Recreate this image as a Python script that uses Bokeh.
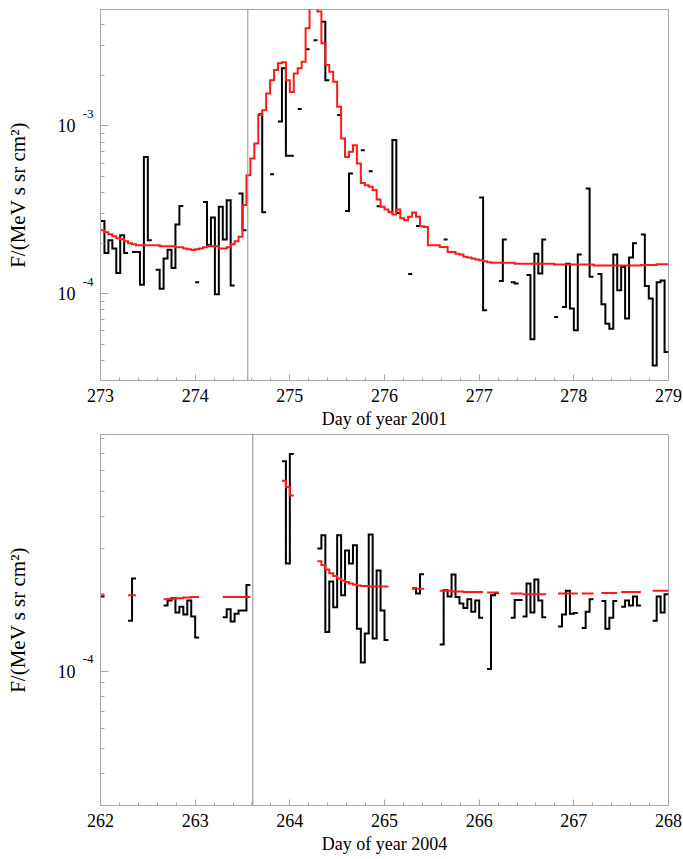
import math
from bokeh.plotting import figure
from bokeh.layouts import column
from bokeh.models import FixedTicker, SingleIntervalTicker, Span, LogAxis, Range1d, LogScale
from bokeh.embed import file_html
from bokeh.resources import INLINE

# ---------------- data: panel 1 (2001) ----------------
top_day0 = 273.0
top_black_starts = [0, 8, 14, 24, 26, 35, 40, 43, 45, 50, 52, 54, 56, 60, 62, 66, 68, 70,
                    73, 78, 80, 87, 96, 101, 104, 108, 115, 117, 123, 126, 137]
top_black_vals = [
    [2.71e-4, 1.75e-4, 2.08e-4, 1.86e-4, 1.33e-4, 2.23e-4, 1.75e-4],
    [1.77e-4, 1.77e-4, 1.13e-4, 6.53e-4, 2.08e-4],
    [1.39e-4, 1.07e-4, 1.62e-4, 1.83e-4, 1.42e-4, 2.58e-4, 3.33e-4],
    [1.17e-4],
    [3.52e-4, 1.94e-4, 2.84e-4, 9.92e-5, 3.29e-4, 2.10e-4, 3.60e-4, 1.12e-4],
    [3.95e-4, 2.39e-4],
    [1.17e-3, 3.06e-4],
    [5.15e-4],
    [1.06e-3, 2.20e-3, 6.63e-4, 6.63e-4],
    [1.26e-3],
    [2.86e-3],
    [3.23e-3],
    [4.17e-3, 1.87e-3],
    [1.16e-3],
    [3.11e-4, 5.20e-4],
    [7.16e-4],
    [5.37e-4],
    [3.32e-4],
    [3.06e-4, 8.22e-4, 3.02e-4],
    [1.31e-4],
    [2.53e-4],
    [2.10e-4],
    [3.74e-4, 7.96e-5],
    [1.19e-4, 2.10e-4],
    [1.17e-4, 1.15e-4],
    [1.29e-4, 5.35e-5, 1.73e-4, 1.32e-4, 2.10e-4],
    [7.26e-5],
    [8.33e-5, 1.51e-4, 8.15e-5, 6.05e-5, 1.71e-4],
    [4.23e-4, 1.26e-4],
    [1.31e-4, 8.65e-5, 6.63e-5, 6.19e-5, 1.71e-4, 1.05e-4, 1.44e-4, 7.11e-5, 1.64e-4, 2.00e-4],
    [2.25e-4, 1.11e-4, 9.35e-5, 3.74e-5, 1.17e-4, 1.20e-4, 4.49e-5],
]
top_red_vals = [
    2.39e-4, 2.32e-4, 2.26e-4, 2.20e-4, 2.14e-4, 2.11e-4, 2.05e-4, 2.00e-4, 1.97e-4, 1.94e-4,
    1.94e-4, 1.94e-4, 1.94e-4, 1.94e-4, 1.94e-4, 1.92e-4, 1.92e-4, 1.92e-4, 1.92e-4, 1.89e-4,
    1.89e-4, 1.86e-4, 1.84e-4, 1.82e-4, 1.84e-4, 1.86e-4, 1.89e-4, 1.92e-4, 1.92e-4, 1.92e-4,
    1.86e-4, 1.86e-4, 1.89e-4, 1.97e-4, 2.05e-4, 2.18e-4, 3.37e-4, 5.08e-4, 6.39e-4, 7.85e-4,
    1.16e-3, 1.24e-3, 1.56e-3, 1.87e-3, 2.15e-3, 2.36e-3, 2.39e-3, 1.87e-3, 1.59e-3, 2.05e-3,
    2.20e-3, 2.41e-3, 3.81e-3, 5.5e-3, 6.0e-3, 4.79e-3, 3.10e-3, 2.30e-3, 2.10e-3, 1.83e-3,
    1.30e-3, 8.40e-4, 6.53e-4, 7.00e-4, 7.67e-4, 5.97e-4, 4.57e-4, 4.43e-4, 4.33e-4, 4.14e-4,
    3.64e-4, 3.29e-4, 3.17e-4, 3.07e-4, 2.96e-4, 3.17e-4, 2.81e-4, 2.74e-4, 2.87e-4, 3.05e-4,
    2.87e-4, 2.52e-4, 2.50e-4, 1.94e-4, 1.94e-4, 1.94e-4, 1.90e-4, 1.90e-4, 1.77e-4, 1.77e-4,
    1.73e-4, 1.71e-4, 1.66e-4, 1.64e-4, 1.62e-4, 1.60e-4, 1.58e-4, 1.56e-4, 1.54e-4, 1.53e-4,
    1.53e-4, 1.53e-4, 1.53e-4, 1.53e-4, 1.53e-4, 1.51e-4, 1.51e-4, 1.51e-4, 1.51e-4, 1.51e-4,
    1.51e-4, 1.51e-4, 1.51e-4, 1.51e-4, 1.51e-4, 1.49e-4, 1.49e-4, 1.49e-4, 1.49e-4, 1.49e-4,
    1.49e-4, 1.49e-4, 1.49e-4, 1.49e-4, 1.49e-4, 1.47e-4, 1.47e-4, 1.47e-4, 1.47e-4, 1.47e-4,
    1.47e-4, 1.47e-4, 1.47e-4, 1.47e-4, 1.47e-4, 1.47e-4, 1.47e-4, 1.48e-4, 1.48e-4, 1.48e-4,
    1.48e-4, 1.50e-4, 1.50e-4, 1.50e-4,
]
top_event_day = 274.556

# ---------------- data: panel 2 (2004) ----------------
bot_day0 = 262.0
bot_starts = [0, 7, 16, 31, 46, 55, 79, 86, 98, 104, 107, 116, 122, 127, 132, 140]
bot_black_vals = [
    [1.95e-4],
    [1.57e-4, 2.29e-4],
    [1.80e-4, 1.88e-4, 1.92e-4, 1.69e-4, 1.78e-4, 1.66e-4, 1.88e-4, 1.63e-4, 1.35e-4],
    [1.62e-4, 1.74e-4, 1.56e-4, 1.67e-4, 1.72e-4, 1.72e-4, 2.16e-4],
    [6.53e-4, 2.62e-4, 6.96e-4],
    [2.99e-4, 3.37e-4, 1.42e-4, 2.23e-4, 1.77e-4, 3.37e-4, 1.97e-4, 2.94e-4, 2.62e-4,
     3.08e-4, 1.46e-4, 1.08e-4, 1.40e-4, 3.39e-4, 1.34e-4, 2.46e-4, 1.72e-4, 1.32e-4],
    [2.10e-4, 2.00e-4, 2.38e-4],
    [1.27e-4, 2.06e-4, 1.95e-4, 2.37e-4, 1.94e-4, 1.83e-4, 1.76e-4, 1.90e-4, 1.70e-4, 1.88e-4, 1.61e-4],
    [1.02e-4, 1.97e-4, 2.01e-4],
    [1.61e-4, 1.89e-4, 1.89e-4],
    [1.63e-4, 2.19e-4, 1.69e-4, 2.27e-4, 1.88e-4, 1.62e-4],
    [1.49e-4, 1.66e-4, 2.05e-4, 1.67e-4, 1.68e-4],
    [1.47e-4, 1.70e-4, 1.90e-4],
    [1.87e-4, 1.46e-4, 1.61e-4, 1.87e-4],
    [1.78e-4, 1.88e-4, 1.80e-4, 1.95e-4, 1.80e-4],
    [1.57e-4, 1.95e-4, 1.69e-4, 1.99e-4],
]
bot_red_vals = [
    [1.97e-4],
    [1.97e-4, 1.97e-4],
    [1.90e-4, 1.91e-4, 1.91e-4, 1.92e-4, 1.92e-4, 1.93e-4, 1.93e-4, 1.94e-4, 1.94e-4],
    [1.94e-4, 1.94e-4, 1.94e-4, 1.94e-4, 1.94e-4, 1.94e-4, 1.94e-4],
    [5.48e-4, 5.18e-4, 4.81e-4],
    [2.67e-4, 2.58e-4, 2.48e-4, 2.40e-4, 2.34e-4, 2.29e-4, 2.25e-4, 2.22e-4, 2.19e-4,
     2.17e-4, 2.15e-4, 2.14e-4, 2.14e-4, 2.13e-4, 2.13e-4, 2.13e-4, 2.13e-4, 2.13e-4],
    [2.09e-4, 2.09e-4, 2.09e-4],
    [2.05e-4, 2.05e-4, 2.05e-4, 2.04e-4, 2.04e-4, 2.04e-4, 2.03e-4, 2.03e-4, 2.03e-4, 2.03e-4, 2.03e-4],
    [2.02e-4, 2.02e-4, 2.02e-4],
    [2.00e-4, 2.00e-4, 2.00e-4],
    [1.99e-4, 1.99e-4, 1.99e-4, 1.99e-4, 1.99e-4, 1.99e-4],
    [2.00e-4, 2.00e-4, 2.00e-4, 2.00e-4, 2.00e-4],
    [2.00e-4, 2.00e-4, 2.00e-4],
    [2.01e-4, 2.01e-4, 2.01e-4, 2.01e-4],
    [2.03e-4, 2.03e-4, 2.03e-4, 2.03e-4, 2.03e-4],
    [2.05e-4, 2.05e-4, 2.05e-4, 2.05e-4],
]
bot_event_day = 263.609

y_major = [1e-4, 1e-3]
y_major_base = ["10", "10"]
y_major_exp = ["-4", "-3"]
y_minor = [m * 10.0 ** e for e in (-5, -4, -3) for m in range(2, 10)]

BIN = 1.0 / 24.0
FONT = "Liberation Serif"
GRAY = "#a8a8a8"
FRAME_H = 371
EXP_RAISE_PX = 12


def step_path(day0, starts, vals_list):
    xs, ys = [], []
    for s, vals in zip(starts, vals_list):
        for i, v in enumerate(vals):
            x0 = day0 + (s + i) * BIN
            xs += [x0, x0 + BIN]
            ys += [v, v]
        xs.append(float("nan"))
        ys.append(float("nan"))
    return xs, ys


def label_axis(range_name, texts, size, standoff):
    ax = LogAxis(ticker=FixedTicker(ticks=y_major), y_range_name=range_name,
                 major_label_overrides={t: s for t, s in zip(y_major, texts)})
    ax.axis_line_color = None
    ax.major_tick_line_color = None
    ax.minor_tick_line_color = None
    ax.major_tick_in = 0
    ax.major_tick_out = 0
    ax.minor_tick_in = 0
    ax.minor_tick_out = 0
    ax.major_label_standoff = standoff
    ax.major_label_text_font = FONT
    ax.major_label_text_font_size = size
    ax.major_label_text_color = "black"
    return ax


def make_panel(height, xr, yr, xlabel, border_top, border_bottom):
    p = figure(width=683, height=height, x_range=xr, y_range=yr, y_axis_type="log",
               output_backend="svg", toolbar_location=None,
               min_border_left=100, min_border_right=15,
               min_border_top=border_top, min_border_bottom=border_bottom)
    p.grid.visible = False
    p.outline_line_color = GRAY
    p.outline_line_width = 1
    p.background_fill_color = "white"
    p.border_fill_color = "white"

    p.xaxis.ticker = SingleIntervalTicker(interval=1, num_minor_ticks=5)
    p.yaxis.ticker = FixedTicker(ticks=y_major, minor_ticks=y_minor)
    p.yaxis.major_label_overrides = {t: "" for t in y_major}
    for ax in (p.xaxis, p.yaxis):
        ax.axis_line_color = GRAY
        ax.major_tick_line_color = GRAY
        ax.minor_tick_line_color = GRAY
        ax.major_tick_out = 0
        ax.minor_tick_out = 0
        ax.major_label_text_font = FONT
        ax.major_label_text_font_size = "18px"
        ax.major_label_text_color = "black"
        ax.axis_label_text_font = FONT
        ax.axis_label_text_font_style = "normal"
        ax.axis_label_text_color = "black"
    p.xaxis.major_tick_in = 6
    p.xaxis.minor_tick_in = 3
    p.yaxis.major_tick_in = 8
    p.yaxis.minor_tick_in = 4
    p.yaxis.major_label_standoff = 0
    p.xaxis.major_label_standoff = 8
    p.xaxis.axis_label_standoff = 4
    p.xaxis.axis_label = xlabel
    p.xaxis.axis_label_text_font_size = "18px"

    # power-of-ten tick labels: exponent (raised) next to the frame, "10" further out
    raise_factor = 10 ** (EXP_RAISE_PX * math.log10(yr[1] / yr[0]) / FRAME_H)
    p.extra_y_ranges = {"exp": Range1d(yr[0] / raise_factor, yr[1] / raise_factor)}
    p.extra_y_scales = {"exp": LogScale()}
    ax_exp = label_axis("exp", y_major_exp, "13px", 7)
    p.add_layout(ax_exp, "left")
    ax_base = label_axis("default", y_major_base, "18px", 4)
    ax_base.axis_label = "F/(MeV s sr cm\u00b2)"
    ax_base.axis_label_text_font = FONT
    ax_base.axis_label_text_font_style = "normal"
    ax_base.axis_label_text_font_size = "21px"
    ax_base.axis_label_text_color = "black"
    ax_base.axis_label_standoff = 25
    p.add_layout(ax_base, "left")
    return p


# ---------------- panel 1 ----------------
p1 = make_panel(432, (273, 279), (3.04e-5, 4.93e-3), "Day of year 2001", 9, 52)
p1.add_layout(Span(location=top_event_day, dimension="height", line_color="#8c8c8c", line_width=1))
bx, by = step_path(top_day0, top_black_starts, top_black_vals)
p1.line(bx, by, line_color="black", line_width=2, line_join="miter")
rx, ry = step_path(top_day0, [0], [top_red_vals])
p1.line(rx, ry, line_color="#ff1a1a", line_width=2, line_join="miter")

# ---------------- panel 2 ----------------
p2 = make_panel(427, (262, 268), (3.01e-5, 8.29e-4), "Day of year 2004", 2, 54)
p2.add_layout(Span(location=bot_event_day, dimension="height", line_color="#8c8c8c", line_width=1))
bx2, by2 = step_path(bot_day0, bot_starts, bot_black_vals)
p2.line(bx2, by2, line_color="black", line_width=2, line_join="miter")
rx2, ry2 = step_path(bot_day0, bot_starts, bot_red_vals)
p2.line(rx2, ry2, line_color="#ff1a1a", line_width=2, line_join="miter")

layout = column(p1, p2, spacing=0)
open("out.html", "w").write(file_html(layout, INLINE))
